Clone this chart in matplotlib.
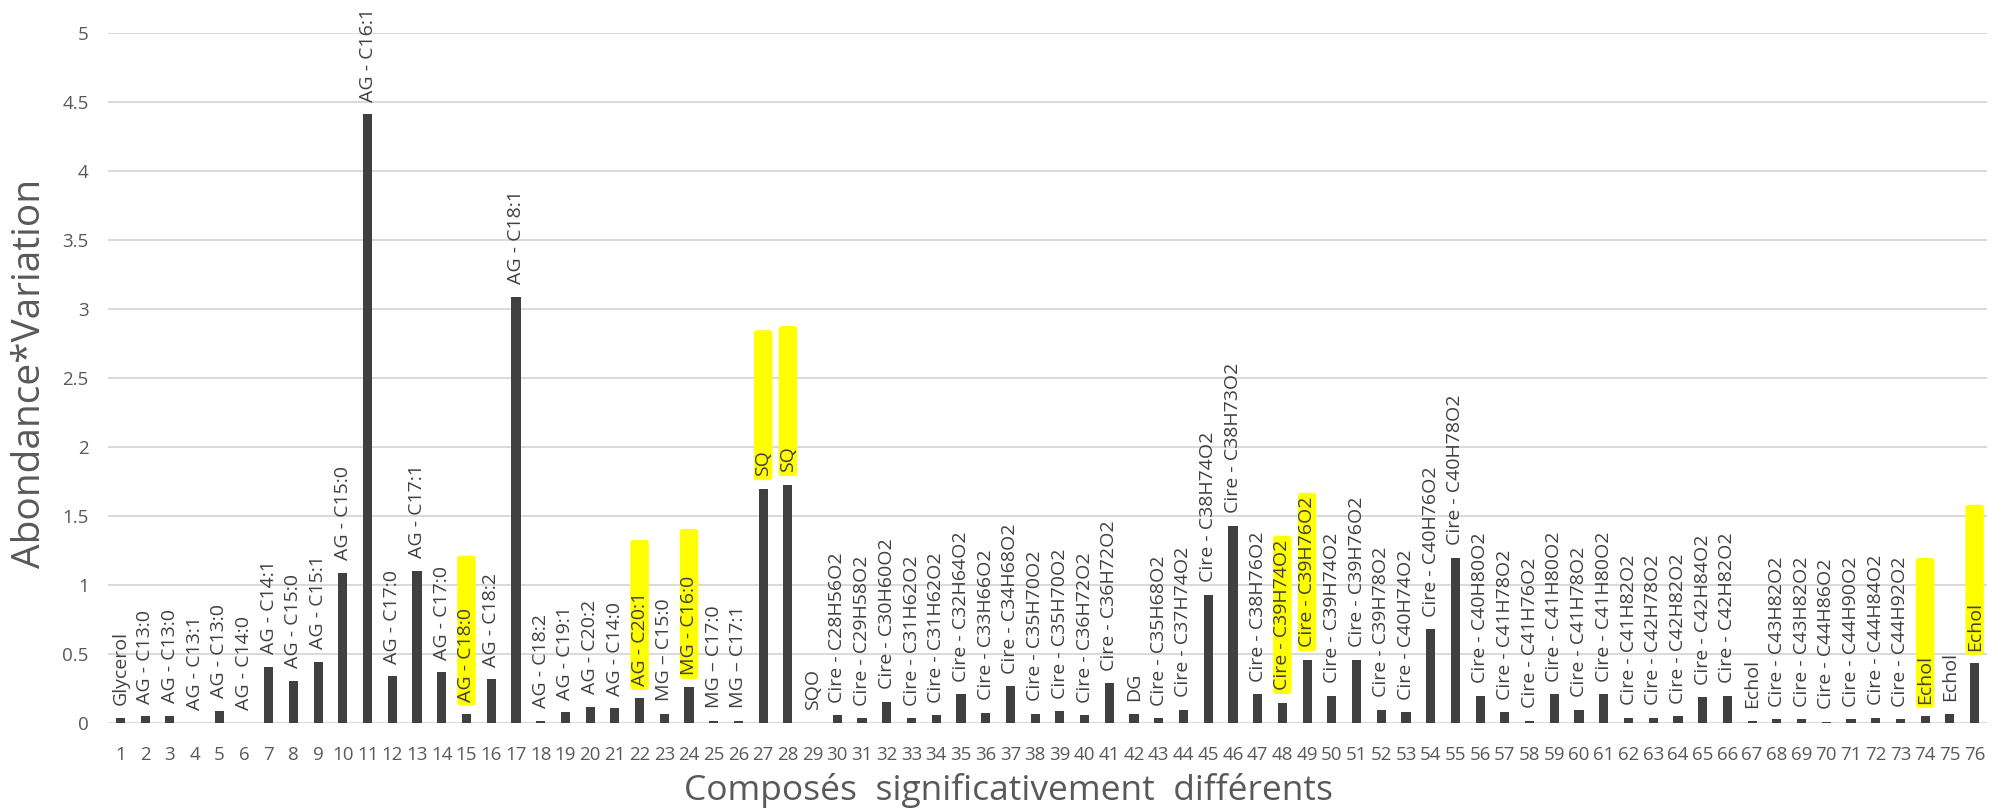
import matplotlib
matplotlib.use("Agg")
import matplotlib.pyplot as plt
from matplotlib.patches import FancyBboxPatch
from matplotlib.transforms import IdentityTransform

positions = list(range(1, 77))
values = [0.04, 0.05, 0.056, 0.005, 0.09, 0.005, 0.41, 0.31, 0.445, 1.09,
          4.415, 0.34, 1.106, 0.37, 0.067, 0.32, 3.09, 0.02, 0.08, 0.12,
          0.11, 0.18, 0.07, 0.26, 0.02, 0.02, 1.70, 1.73, 0.005, 0.06,
          0.036, 0.157, 0.036, 0.06, 0.21, 0.077, 0.27, 0.07, 0.087, 0.06,
          0.29, 0.07, 0.036, 0.10, 0.93, 1.43, 0.21, 0.15, 0.46, 0.20,
          0.46, 0.097, 0.08, 0.68, 1.20, 0.20, 0.08, 0.02, 0.21, 0.10,
          0.21, 0.04, 0.04, 0.05, 0.19, 0.20, 0.02, 0.03, 0.03, 0.01,
          0.03, 0.04, 0.03, 0.05, 0.07, 0.435]
labels = ["Glycerol", "AG - C13:0", "AG - C13:0", "AG - C13:1", "AG - C13:0",
          "AG - C14:0", "AG - C14:1", "AG - C15:0", "AG - C15:1", "AG - C15:0",
          "AG - C16:1", "AG - C17:0", "AG - C17:1", "AG - C17:0", "AG - C18:0",
          "AG - C18:2", "AG - C18:1", "AG - C18:2", "AG - C19:1", "AG - C20:2",
          "AG - C14:0", "AG - C20:1", "MG \u2013 C15:0", "MG - C16:0", "MG \u2013 C17:0",
          "MG \u2013 C17:1", "SQ", "SQ", "SQO", "Cire - C28H56O2",
          "Cire - C29H58O2", "Cire - C30H60O2", "Cire - C31H62O2", "Cire - C31H62O2", "Cire - C32H64O2",
          "Cire - C33H66O2", "Cire - C34H68O2", "Cire - C35H70O2", "Cire - C35H70O2", "Cire - C36H72O2",
          "Cire - C36H72O2", "DG", "Cire - C35H68O2", "Cire - C37H74O2", "Cire - C38H74O2",
          "Cire - C38H73O2", "Cire - C38H76O2", "Cire - C39H74O2", "Cire - C39H76O2", "Cire - C39H74O2",
          "Cire - C39H76O2", "Cire - C39H78O2", "Cire - C40H74O2", "Cire - C40H76O2", "Cire - C40H78O2",
          "Cire - C40H80O2", "Cire - C41H78O2", "Cire - C41H76O2", "Cire - C41H80O2", "Cire - C41H78O2",
          "Cire - C41H80O2", "Cire - C41H82O2", "Cire - C42H78O2", "Cire - C42H82O2", "Cire - C42H84O2",
          "Cire - C42H82O2", "Echol", "Cire - C43H82O2", "Cire - C43H82O2", "Cire - C44H86O2",
          "Cire - C44H90O2", "Cire - C44H84O2", "Cire - C44H92O2", "Echol", "Echol",
          "Echol"]
highlighted = [15, 22, 24, 27, 28, 48, 49, 74, 76]
y_ticks = [0, 0.5, 1, 1.5, 2, 2.5, 3, 3.5, 4, 4.5, 5]
y_tick_labels = ["0", "0.5", "1", "1.5", "2", "2.5", "3", "3.5", "4", "4.5", "5"]

plt.rcParams['font.family'] = ['Open Sans', 'DejaVu Sans']

W, H = 2007, 810
fig = plt.figure(figsize=(W / 100, H / 100), dpi=100)
ax = fig.add_axes([108 / W, 1 - 723.3 / H, (1987 - 108) / W, (723.3 - 33.3) / H])

ax.bar(positions, values, width=0.37, color="#404040", zorder=2)
ax.set_xlim(0.5, 76.5)
ax.set_ylim(0, 5)
ax.set_yticks(y_ticks)
ax.set_yticklabels(y_tick_labels)
ax.set_xticks(positions)
ax.set_xticklabels([str(p) for p in positions])
ax.tick_params(axis="both", length=0, labelsize=13.5, labelcolor="#595959")
ax.tick_params(axis="y", pad=14)
ax.tick_params(axis="x", pad=16)
ax.yaxis.grid(True, color="#d9d9d9", linewidth=1.4, zorder=0)
ax.set_axisbelow(True)
for s in ax.spines.values():
    s.set_visible(False)

texts = []
for p, v, lab in zip(positions, values, labels):
    t = ax.annotate(lab, xy=(p, v), xytext=(0, 9), textcoords="offset points",
                    rotation=90, ha="center", va="bottom", fontsize=14,
                    color="#404040", zorder=4, annotation_clip=False)
    texts.append(t)

fig.text(30 / W, 1 - 373 / H, "Abondance*Variation", rotation=90, ha="center",
         va="center", fontsize=28, color="#595959")
fig.text((691 + 1325) / 2 / W, 1 - 790 / H, "Composés  significativement  différents",
         ha="center", va="center", fontsize=25.5, color="#595959")

fig.canvas.draw()
renderer = fig.canvas.get_renderer()
for p in highlighted:
    t = texts[p - 1]
    bb = t.get_window_extent(renderer)
    xc = ax.transData.transform((p, 0))[0]
    bw = 18.5
    y0 = bb.y0 - 4
    h = max(150, bb.height + 8)
    box = FancyBboxPatch((xc - bw / 2, y0), bw, h,
                         boxstyle="round,pad=0,rounding_size=3",
                         facecolor="#ffff00", edgecolor="none",
                         transform=IdentityTransform(), zorder=3)
    box.set_clip_on(False)
    ax.add_artist(box)

fig.savefig("out.png", dpi=100)
